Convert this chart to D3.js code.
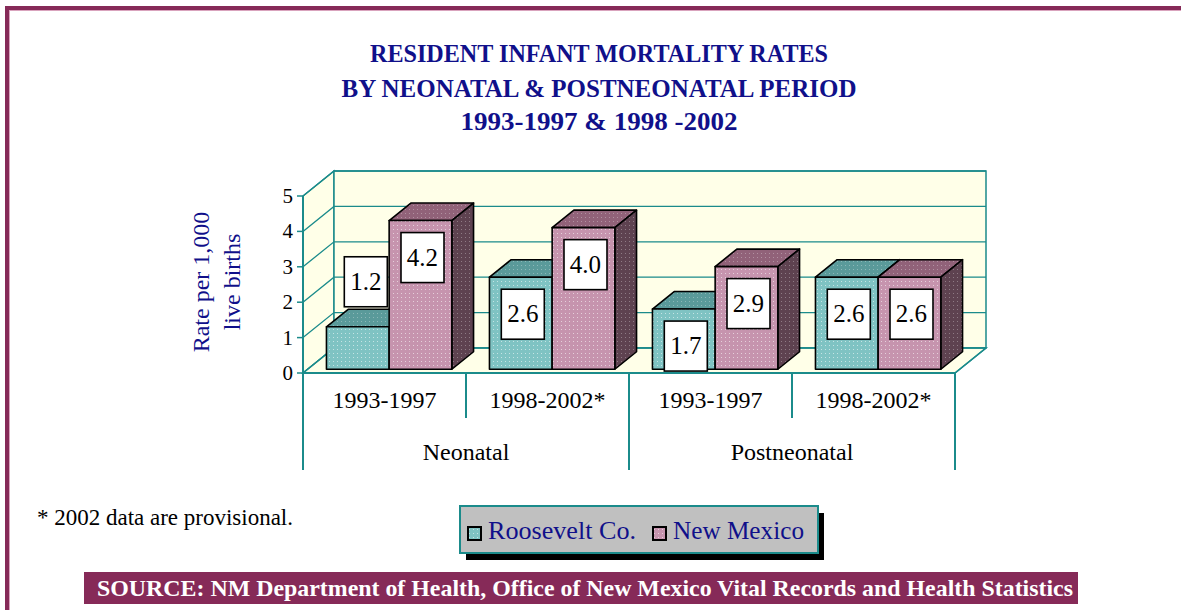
<!DOCTYPE html>
<html>
<head>
<meta charset="utf-8">
<script src="https://cdn.jsdelivr.net/npm/d3@7"></script>
<style>
  body { margin: 0; background: #fff; }
  text { font-family: "Liberation Serif", "Times New Roman", serif; }
</style>
</head>
<body>
<svg></svg>
<script>
// chart data
const periods = ["Neonatal", "Postneonatal"];
const yearRanges = ["1993-1997", "1998-2002*"];
const series = ["Roosevelt Co.", "New Mexico"];
const roosevelt = [1.2, 2.6, 1.7, 2.6];
const newMexico = [4.2, 4.0, 2.9, 2.6];
const yTicks = [0, 1, 2, 3, 4, 5];

const width = 1181;
const height = 610;
const DX = 31, DY = 25;          // depth offset of back wall
const zFront = 0.15, zBack = 0.85; // bar depth in the box
const teal = "#1b8b8b";
const navy = "#10108a";
const wine = "#862a58";

const colors = {
  "Roosevelt Co.": { front: "#7fc3c3", top: "#5a9a9a", side: "#3f7474" },
  "New Mexico": { front: "#c694ae", top: "#916279", side: "#5e4250" }
};

const cats = [];
periods.forEach(p => yearRanges.forEach(r => cats.push(p + "|" + r)));

const rows = [];
cats.forEach((c, i) => {
  rows.push({ cat: c, s: series[0], v: roosevelt[i] });
  rows.push({ cat: c, s: series[1], v: newMexico[i] });
});

let canvas = d3.select("svg")
    .attr("width", width)
    .attr("height", height)

// dotted fill patterns
const defs = canvas.append("defs");
series.forEach((s, i) => {
  ["front", "top", "side"].forEach(face => {
    const pat = defs.append("pattern")
        .attr("id", "p" + i + face)
        .attr("width", 4).attr("height", 4)
        .attr("patternUnits", "userSpaceOnUse");
    pat.append("rect").attr("width", 4).attr("height", 4).attr("fill", colors[s][face]);
    pat.append("rect").attr("x", 1).attr("y", 1).attr("width", 1).attr("height", 1)
        .attr("fill", "#fff").attr("opacity", face == "front" ? 0.55 : 0.3);
  });
});

// page frame
canvas.append("rect").attr("x", 5).attr("y", 6).attr("width", width).attr("height", 4).attr("fill", wine);
canvas.append("rect").attr("x", 5).attr("y", 6).attr("width", 4).attr("height", height).attr("fill", wine);
canvas.append("line").attr("x1", 9.5).attr("x2", 9.5).attr("y1", 10).attr("y2", height)
    .attr("stroke", "#d9a3bd").attr("stroke-width", 1);
canvas.append("line").attr("x1", 9).attr("x2", width).attr("y1", 10.5).attr("y2", 10.5)
    .attr("stroke", "#d9a3bd").attr("stroke-width", 1);

// title
const titleLines = [
  { t: "RESIDENT INFANT MORTALITY RATES", y: 62, len: 458 },
  { t: "BY NEONATAL & POSTNEONATAL PERIOD", y: 97, len: 515 },
  { t: "1993-1997 & 1998 -2002", y: 130, len: 277 }
];
canvas.selectAll(".title").data(titleLines).join("text")
    .attr("x", 599).attr("y", d => d.y)
    .attr("text-anchor", "middle")
    .attr("font-size", 25).attr("font-weight", "bold")
    .attr("fill", navy)
    .attr("textLength", d => d.len).attr("lengthAdjust", "spacingAndGlyphs")
    .text(d => d.t);

// scales
const y = d3.scaleLinear().domain([0, 5]).range([373, 196]);
const x0 = d3.scaleBand().domain(cats).range([303, 955]);
const x1 = d3.scaleBand().domain(series).range([0, x0.bandwidth()]).paddingOuter(0.3);
const xp = d3.scaleBand().domain(periods).range([303, 955]);

const pt = (x, v, z) => [x + z * DX, y(v) - z * DY];
const poly = ps => ps.map(p => p.join(",")).join(" ");

const x0L = x0.range()[0], x0R = x0.range()[1];
const wall = "#ffffe8";

// side wall, back wall, floor
canvas.append("polygon")
    .attr("points", poly([pt(x0L, 0, 0), pt(x0L, 5, 0), pt(x0L, 5, 1), pt(x0L, 0, 1)]))
    .attr("fill", wall).attr("stroke", teal).attr("stroke-width", 1.5);
canvas.append("polygon")
    .attr("points", poly([pt(x0L, 5, 1), pt(x0R, 5, 1), pt(x0R, 0, 1), pt(x0L, 0, 1)]))
    .attr("fill", wall).attr("stroke", teal).attr("stroke-width", 1.5);
canvas.append("polygon")
    .attr("points", poly([pt(x0L, 0, 0), pt(x0R, 0, 0), pt(x0R, 0, 1), pt(x0L, 0, 1)]))
    .attr("fill", wall).attr("stroke", teal).attr("stroke-width", 1.5);

// gridlines
canvas.selectAll(".grid").data(yTicks).join("polyline")
    .attr("points", d => poly([pt(x0L, d, 0), pt(x0L, d, 1), pt(x0R, d, 1)]))
    .attr("fill", "none").attr("stroke", teal).attr("stroke-width", 1.3);

// y axis
canvas.append("line").attr("x1", x0L).attr("x2", x0L).attr("y1", y(5)).attr("y2", 470)
    .attr("stroke", teal).attr("stroke-width", 2);
canvas.selectAll(".tick").data(yTicks).join("line")
    .attr("x1", x0L - 6).attr("x2", x0L).attr("y1", d => y(d)).attr("y2", d => y(d))
    .attr("stroke", teal).attr("stroke-width", 1.5);
canvas.selectAll(".tickLabel").data(yTicks).join("text")
    .attr("x", x0L - 10).attr("y", d => y(d) + 7)
    .attr("text-anchor", "end").attr("font-size", 21)
    .text(d => d);

canvas.append("g").attr("class", "ytitle").attr("transform", "translate(0,282) rotate(-90)")
  .selectAll("text").data(["Rate per 1,000", "live births"]).join("text")
    .attr("transform", (d, i) => "translate(0," + (209 + i * 31) + ")")
    .attr("text-anchor", "middle").attr("font-size", 24).attr("fill", navy)
    .text(d => d);

// category axis
canvas.append("line").attr("x1", x0L).attr("x2", x0R).attr("y1", y(0)).attr("y2", y(0))
    .attr("stroke", teal).attr("stroke-width", 2);
canvas.append("line").attr("x1", x0R).attr("x2", x0R + DX).attr("y1", y(0)).attr("y2", y(0) - DY)
    .attr("stroke", teal).attr("stroke-width", 1.5);
canvas.selectAll(".div").data(cats).join("line")
    .attr("x1", d => x0(d) + x0.bandwidth()).attr("x2", d => x0(d) + x0.bandwidth())
    .attr("y1", y(0))
    .attr("y2", (d, i) => i % 2 == 1 ? 470 : 418)
    .attr("stroke", teal).attr("stroke-width", 2);
canvas.selectAll(".catLabel").data(cats).join("text")
    .attr("x", d => x0(d) + x0.bandwidth() / 2).attr("y", 408)
    .attr("text-anchor", "middle").attr("font-size", 24)
    .text(d => d.split("|")[1]);
canvas.selectAll(".perLabel").data(periods).join("text")
    .attr("x", d => xp(d) + xp.bandwidth() / 2).attr("y", 460)
    .attr("text-anchor", "middle").attr("font-size", 24)
    .text(d => d);

// bars
const bars = canvas.selectAll(".bar").data(rows).join("g");
bars.each(function(d) {
  const g = d3.select(this);
  const i = series.indexOf(d.s);
  const xl = x0(d.cat) + x1(d.s), xr = xl + x1.bandwidth();
  g.append("polygon")
      .attr("points", poly([pt(xl, d.v, zFront), pt(xr, d.v, zFront), pt(xr, d.v, zBack), pt(xl, d.v, zBack)]))
      .attr("fill", "url(#p" + i + "top)");
  g.append("polygon")
      .attr("points", poly([pt(xr, 0, zFront), pt(xr, d.v, zFront), pt(xr, d.v, zBack), pt(xr, 0, zBack)]))
      .attr("fill", "url(#p" + i + "side)");
  g.append("polygon")
      .attr("points", poly([pt(xl, 0, zFront), pt(xr, 0, zFront), pt(xr, d.v, zFront), pt(xl, d.v, zFront)]))
      .attr("fill", "url(#p" + i + "front)");
  g.selectAll("polygon").attr("stroke", "#000").attr("stroke-width", 1.6).attr("stroke-linejoin", "round");
});

// value labels
const labels = canvas.selectAll(".lab").data(rows).join("g")
    .attr("transform", d => {
      const xl = x0(d.cat) + x1(d.s);
      const top = pt(xl, d.v, zFront);
      const above = d.v < 1.5;
      const cx = top[0] + x1.bandwidth() / 2 + (above ? 8 : 2);
      const cy = above ? top[1] - 45 : top[1] + 37;
      return "translate(" + cx + "," + cy + ")";
    });
labels.append("rect").attr("x", -21.5).attr("y", -25).attr("width", 43).attr("height", 50)
    .attr("fill", "#fff").attr("stroke", "#000").attr("stroke-width", 1.6);
labels.append("text").attr("y", 8).attr("text-anchor", "middle").attr("font-size", 25)
    .text(d => d.v.toFixed(1));

// footnote
canvas.append("text").attr("x", 37).attr("y", 525).attr("font-size", 23)
    .attr("textLength", 256).attr("lengthAdjust", "spacingAndGlyphs")
    .text("* 2002 data are provisional.");

// legend
canvas.append("rect").attr("x", 466).attr("y", 513).attr("width", 358).attr("height", 47).attr("fill", "#000");
canvas.append("rect").attr("x", 460).attr("y", 506).attr("width", 358).attr("height", 47)
    .attr("fill", "#c0c0c0").attr("stroke", teal).attr("stroke-width", 2);
const legX = [468, 653];
const legLen = [148, 131];
const leg = canvas.selectAll(".leg").data(series).join("g")
    .attr("transform", (d, i) => "translate(" + legX[i] + ",0)");
leg.append("rect").attr("x", 0).attr("y", 527).attr("width", 13).attr("height", 13)
    .attr("fill", (d, i) => "url(#p" + i + "front)").attr("stroke", "#000").attr("stroke-width", 2);
leg.append("text").attr("x", 20).attr("y", 539).attr("font-size", 25).attr("fill", navy)
    .attr("textLength", (d, i) => legLen[i]).attr("lengthAdjust", "spacingAndGlyphs")
    .text(d => d);

// source banner
canvas.append("rect").attr("x", 84).attr("y", 572).attr("width", 994).attr("height", 32).attr("fill", wine);
canvas.append("text").attr("x", 97).attr("y", 596).attr("font-size", 23).attr("font-weight", "bold")
    .attr("fill", "#fff")
    .attr("textLength", 976).attr("lengthAdjust", "spacingAndGlyphs")
    .text("SOURCE: NM Department of Health, Office of New Mexico Vital Records and Health Statistics");
</script>
</body>
</html>
